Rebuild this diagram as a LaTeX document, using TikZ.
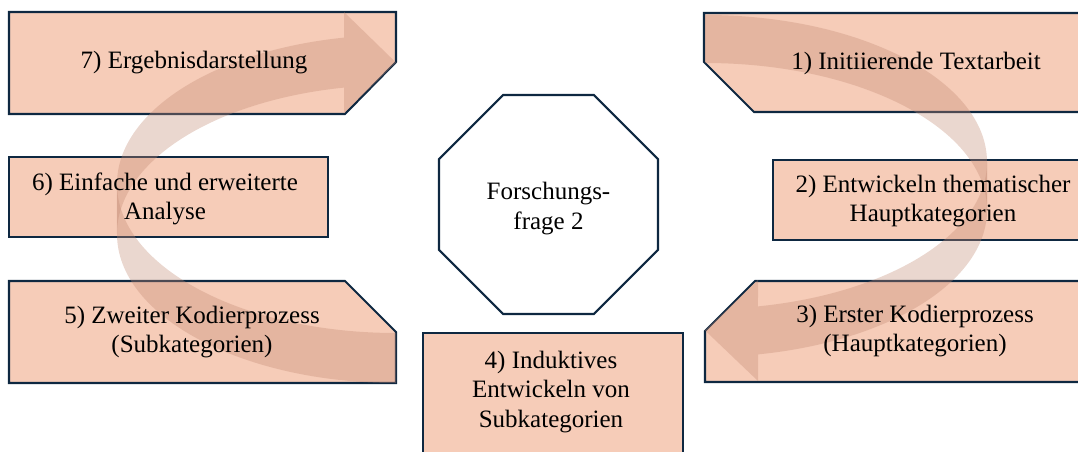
\documentclass[tikz,border=0pt]{standalone}
\usepackage{fontspec}
\setmainfont{Liberation Serif}
\usetikzlibrary{shapes.geometric}
\definecolor{boxfill}{HTML}{F6CCB8}
\definecolor{boxline}{HTML}{0E2841}
\definecolor{bandfill}{HTML}{C48C76}
\begin{document}
\begin{tikzpicture}[x=1pt,y=-1pt,every node/.style={inner sep=0,outer sep=0,align=center,font=\fontsize{25}{29.5}\selectfont},
    stepbox/.style={fill=boxfill,draw=boxline,line width=2.1pt},
    band/.style={fill=bandfill,fill opacity=0.35},
    octa/.style={draw=boxline,line width=2.1pt,regular polygon,regular polygon sides=8,minimum size=237pt}]
	\useasboundingbox (0,0) rectangle (1078,452);
	\path[stepbox] (9,12) -- (396,12) -- (396,62) -- (345,114) -- (9,114) -- cycle;
	\path[stepbox] (9,157) rectangle (328,237);
	\path[stepbox] (9,281) -- (345,281) -- (396,332) -- (396,383) -- (9,383) -- cycle;
	\path[stepbox] (423,333) rectangle (683,460);
	\path[stepbox] (704,13) -- (1100,13) -- (1100,112) -- (754,112) -- (704,62) -- cycle;
	\path[stepbox] (773,160) rectangle (1100,240);
	\path[stepbox] (755,281) -- (1100,281) -- (1100,382) -- (705,382) -- (705,331) -- cycle;
	\node[octa] (f) at (548.5,204.5) {};
	\path[band] (117,184) arc[start angle=180,end angle=259.26,x radius=279,y radius=149]
	    -- (344,12) -- (396,62.6) -- (344,113) -- (344,87.6)
	    arc[start angle=259.26,end angle=180,x radius=279,y radius=149] -- cycle;
	\path[band] (117,184) arc[start angle=180,end angle=90,x radius=279,y radius=149]
	    -- (396,383) arc[start angle=90,end angle=180,x radius=279,y radius=149] -- cycle;
	\path[band] (987,162) arc[start angle=0,end angle=79.17,x radius=282,y radius=147]
	    -- (758,280) -- (705,330.4) -- (758,381) -- (758,354.4)
	    arc[start angle=79.17,end angle=0,x radius=282,y radius=147] -- cycle;
	\path[band] (987,162) arc[start angle=0,end angle=-90,x radius=282,y radius=147]
	    -- (705,63) arc[start angle=-90,end angle=0,x radius=282,y radius=147] -- cycle;
	\node (1) at (916,63) {1) Initiierende Textarbeit};
	\node (2) at (933,201) {2) Entwickeln thematischer\\Hauptkategorien};
	\node (3) at (915,331) {3) Erster Kodierprozess\\(Hauptkategorien)};
	\node (4) at (551,392) {4) Induktives\\Entwickeln von\\Subkategorien};
	\node (5) at (192,332) {5) Zweiter Kodierprozess\\(Subkategorien)};
	\node (6) at (165,199) {6) Einfache und erweiterte\\Analyse};
	\node (7) at (194,63) {7) Ergebnisdarstellung};
	\node (q) at ([yshift=-4pt]f.center) {Forschungs-\\frage 2};
\end{tikzpicture}
\end{document}
